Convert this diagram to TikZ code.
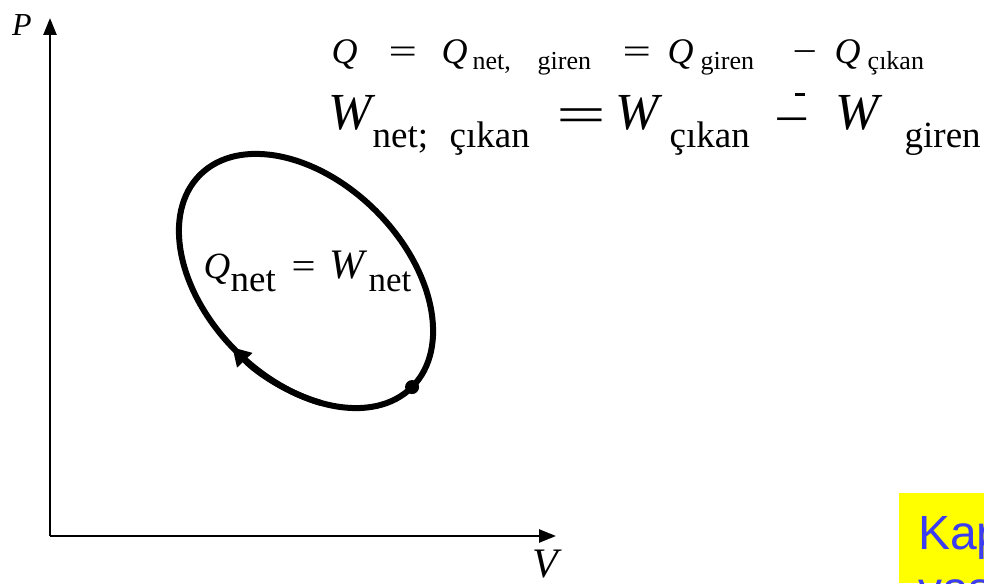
\documentclass[tikz,border=0pt]{standalone}
\usepackage{graphicx}
\usepackage{fontspec}
\setmainfont{Liberation Serif}
\newfontfamily\notefont{Liberation Sans}
\usetikzlibrary{arrows.meta}

\definecolor{noteyellow}{RGB}{255,255,0}
\definecolor{noteblue}{RGB}{60,60,240}

% place a piece of text at a fixed offset from the start of a line
\newcommand{\putat}[2]{\makebox[0pt][l]{\hspace*{#1}#2}}
% lowered subscript: drop, size, text
\newcommand{\low}[3]{\raisebox{-#1}{\fontsize{#2}{#2}\selectfont #3}}
% wide relation signs
\newcommand{\weq}[1]{\scalebox{#1}[1]{=}}
\newcommand{\wminus}[1]{\scalebox{#1}[1]{−}}

\tikzset{
  axis/.style={line width=2.5pt,-{Triangle[length=17pt,width=13pt]}},
  cycle/.style={line width=6pt},
  eqline/.style={inner sep=0pt,anchor=base west}
}

\begin{document}
\begin{tikzpicture}[x=1pt,y=1pt]
\useasboundingbox (0,0) rectangle (984,583);
\clip (0,0) rectangle (984,583);

% axes
\coordinate (o) at (50,47);
\coordinate (ptop) at (50,565);
\coordinate (vend) at (556,47);
\draw[axis] (o) -- (ptop);
\draw[axis] (o) -- (vend);
\node[font=\fontsize{32}{34}\selectfont\itshape] (p) at (22,558) {P};
\node[font=\fontsize{42}{44}\selectfont\itshape] (v) at (545,19) {V};

% the cycle
\begin{scope}[shift={(306,302)},rotate=-45]
  \draw[cycle] (0,0) ellipse [x radius=150,y radius=99];
  \draw[cycle,-{Triangle[length=18pt,width=20pt]}] (-50:150 and 99)
    arc [start angle=-50,end angle=-92,x radius=150,y radius=99];
  \coordinate (dot) at (0:150 and 99);
  \fill (dot) circle (7);
\end{scope}
\node[eqline,font=\fontsize{37}{39}\selectfont] (cyc) at (203,304)
  {\putat{0pt}{\textit{Q}}\putat{27pt}{\low{13pt}{37}{net}}\putat{88pt}{\weq{1.15}}%
   \putat{126pt}{\fontsize{42}{44}\selectfont\textit{W}}\putat{165pt}{\low{13pt}{35}{net}}};

% equations
\node[eqline,font=\fontsize{36}{38}\selectfont] (heat) at (331,519)
  {\putat{0pt}{\textit{Q}}\putat{57pt}{\weq{1.4}}\putat{110pt}{\textit{Q}}%
   \putat{141pt}{\low{6pt}{26}{net,}}\putat{206pt}{\low{6pt}{26}{giren}}%
   \putat{291pt}{\weq{1.4}}\putat{336pt}{\textit{Q}}\putat{369pt}{\low{6pt}{26}{giren}}%
   \putat{461pt}{\wminus{1.2}}\putat{503pt}{\textit{Q}}\putat{536pt}{\low{6pt}{26}{çıkan}}};
\node[eqline,font=\fontsize{52}{54}\selectfont] (work) at (328,453)
  {\putat{0pt}{\textit{W}}\putat{44pt}{\low{18pt}{37}{net;}}%
   \putat{121pt}{\low{18pt}{37}{çıkan}}\putat{228pt}{\raisebox{-3pt}{\weq{1.7}}}\putat{287pt}{\textit{W}}%
   \putat{341pt}{\low{18pt}{37}{çıkan}}\putat{446pt}{\raisebox{-7pt}{\wminus{1.2}}}%
   \putat{507pt}{\textit{W}}\putat{576pt}{\low{18pt}{37}{giren}}};
\draw[line width=3pt] (795,488) -- (805,488);

% note box at the corner
\fill[noteyellow] (899,0) rectangle (984,90);
\node[eqline,font=\notefont\fontsize{48}{54}\selectfont,text=noteblue] (note) at (918,33)
  {Kapalı};
\node[eqline,font=\notefont\fontsize{48}{54}\selectfont,text=noteblue] (note2) at (918,-22)
  {yasası};
\end{tikzpicture}
\end{document}
